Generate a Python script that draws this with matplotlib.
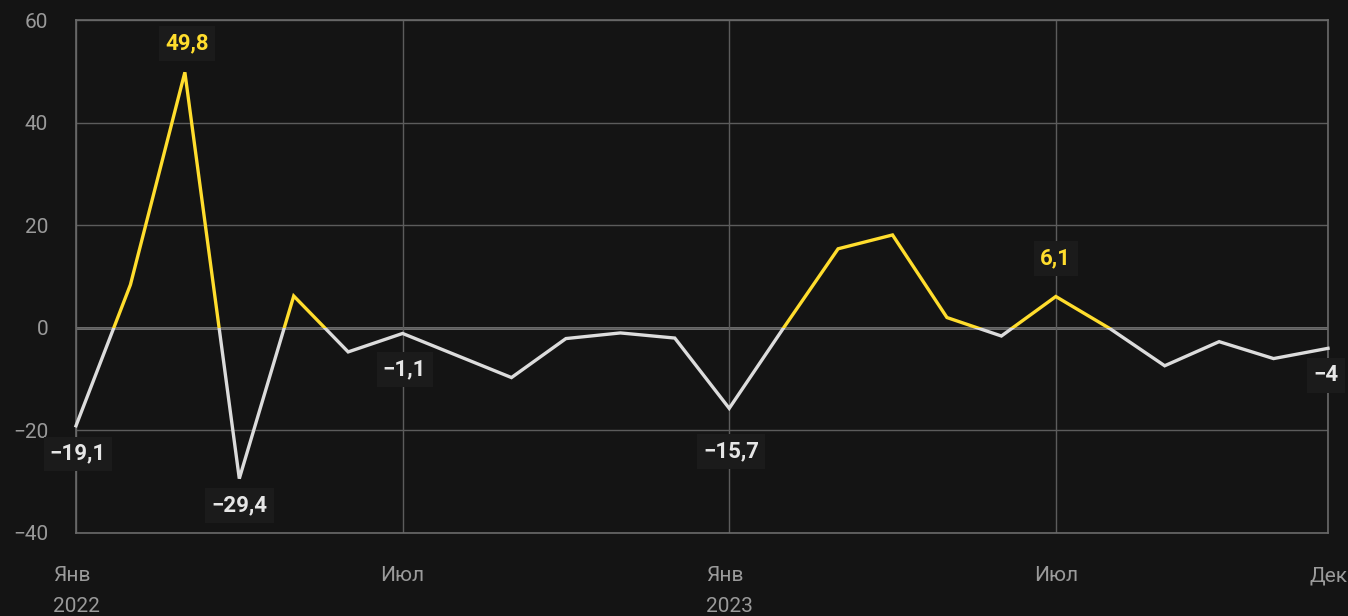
import matplotlib
matplotlib.use("Agg")
import matplotlib.pyplot as plt
from matplotlib.patches import Rectangle

plt.rcParams['font.family'] = ['Roboto', 'DejaVu Sans']

months = list(range(24))
values = [-19.1, 8.4, 49.8, -29.4, 6.2, -4.7,
          -1.1, -5.4, -9.7, -2.1, -1.0, -2.0,
          -15.7, 0.0, 15.4, 18.1, 2.0, -1.6,
          6.1, -0.2, -7.4, -2.7, -6.0, -4.0]
tick_pos = [0, 6, 12, 18, 23]
tick_labels = ["Янв\n2022", "Июл", "Янв\n2023", "Июл", "Дек"]
y_ticks = [-40, -20, 0, 20, 40, 60]
y_tick_labels = ["−40", "−20", "0", "20", "40", "60"]

# annotated points: (index, text, color, dx px, dy px)
annotations = [
    (0, "−19,1", "#e6e6e6", 2, -28),
    (2, "49,8", "#ffdd2d", 2, 29),
    (3, "−29,4", "#e6e6e6", 0, -27),
    (6, "−1,1", "#e6e6e6", 2, -36),
    (12, "−15,7", "#e6e6e6", 2, -43),
    (18, "6,1", "#ffdd2d", 0, 38),
    (23, "−4", "#e6e6e6", -2, -27),
]

BG = "#141414"
YELLOW = "#ffdd2d"
GRAY_LINE = "#dcdcdc"
GRID = "#5c5c5c"

fig = plt.figure(figsize=(13.48, 6.16), dpi=100, facecolor=BG)
ax = fig.add_axes([76/1348, 1 - 533/616, (1328-76)/1348, (533-20)/616])
ax.set_facecolor(BG)
ax.set_xlim(0, 23)
ax.set_ylim(-40, 60)

ax.set_yticks(y_ticks)
ax.set_yticklabels(y_tick_labels)
ax.set_xticks(tick_pos)
ax.set_xticklabels(tick_labels, linespacing=1.8, multialignment='left')
ax.tick_params(axis='both', length=0, colors="#9a9a9a", labelsize=15)
ax.tick_params(axis='y', pad=20)
ax.tick_params(axis='x', pad=24)

ax.grid(True, color=GRID, linewidth=1.0, zorder=0)
ax.axhline(0, color="#8c8c8c", linewidth=1.8, zorder=1)
for s in ax.spines.values():
    s.set_color("#6a6a6a")
    s.set_linewidth(1.2)

l1, = ax.plot(months, values, color=YELLOW, linewidth=2.4, zorder=3,
              solid_joinstyle='miter')
l2, = ax.plot(months, values, color=GRAY_LINE, linewidth=2.4, zorder=3,
              solid_joinstyle='miter')
r_up = Rectangle((-5, 0), 40, 200, transform=ax.transData)
r_dn = Rectangle((-5, -200), 40, 200, transform=ax.transData)
l1.set_clip_path(r_up)
l2.set_clip_path(r_dn)

for i, txt, col, dx, dy in annotations:
    ax.annotate(txt, (months[i], values[i]), xytext=(dx, dy),
                textcoords='offset pixels', ha='center', va='center',
                color=col, fontsize=16, fontweight='bold', zorder=5,
                annotation_clip=False,
                bbox=dict(boxstyle='square,pad=0.28', fc="#1b1b1b", ec='none'))

fig.savefig("out.png", dpi=100, facecolor=BG)
